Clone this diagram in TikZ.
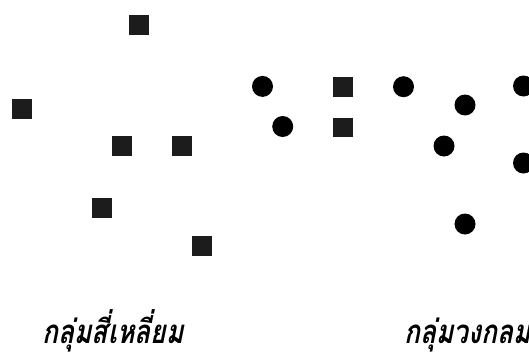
\documentclass[tikz,border=0pt]{standalone}
\usepackage{fontspec}
\newfontfamily\thaifont[Script=Thai,FakeSlant=0.2,FakeStretch=0.8,
  BoldFeatures={FakeSlant=0.2,FakeStretch=0.8}]{Loma}
\usepackage{xcolor}
\usetikzlibrary{shapes,positioning}
\pgfdeclarelayer{nodelayer}
\pgfsetlayers{main,nodelayer}
\tikzstyle{none}=[inner sep=0mm]
\tikzstyle{sq}=[inner sep=0pt,minimum size=20pt,fill={rgb,255:red,28;green,28;blue,28},shape=rectangle]
\tikzstyle{dot}=[inner sep=0pt,minimum size=21pt,fill=black,shape=circle]
\tikzstyle{grp}=[none,anchor=base,font={\thaifont\bfseries\fontsize{33}{40}\selectfont}]

\begin{document}
\begin{tikzpicture}[x=1pt,y=-1pt]
	\useasboundingbox (0,0) rectangle (529,353);
	\begin{pgfonlayer}{nodelayer}
		% squares
		\node [style=sq] (0) at (139, 24.6) {};
		\node [style=sq] (1) at (21.6, 109) {};
		\node [style=sq] (2) at (121.5, 146) {};
		\node [style=sq] (3) at (182, 146) {};
		\node [style=sq] (4) at (101.5, 208) {};
		\node [style=sq] (5) at (202, 246) {};
		\node [style=sq] (6) at (343, 86.7) {};
		\node [style=sq, minimum height=19pt] (7) at (343, 127.5) {};
		% circles
		\node [style=dot] (8) at (262.5, 86.4) {};
		\node [style=dot] (9) at (282.7, 126.5) {};
		\node [style=dot] (10) at (403.5, 86.7) {};
		\node [style=dot] (11) at (465, 105) {};
		\node [style=dot] (12) at (444, 146) {};
		\node [style=dot] (13) at (465, 224) {};
		\node [style=dot] (14) at (523.5, 86) {};
		\node [style=dot] (15) at (523.5, 163) {};
		% group names
		\node [style=grp] (16) at (113, 343) {กลุ่มสี่เหลี่ยม};
		\node [style=grp, anchor=base west] (17) at (404, 343) {กลุ่มวงกลม};
	\end{pgfonlayer}
\end{tikzpicture}
\end{document}
